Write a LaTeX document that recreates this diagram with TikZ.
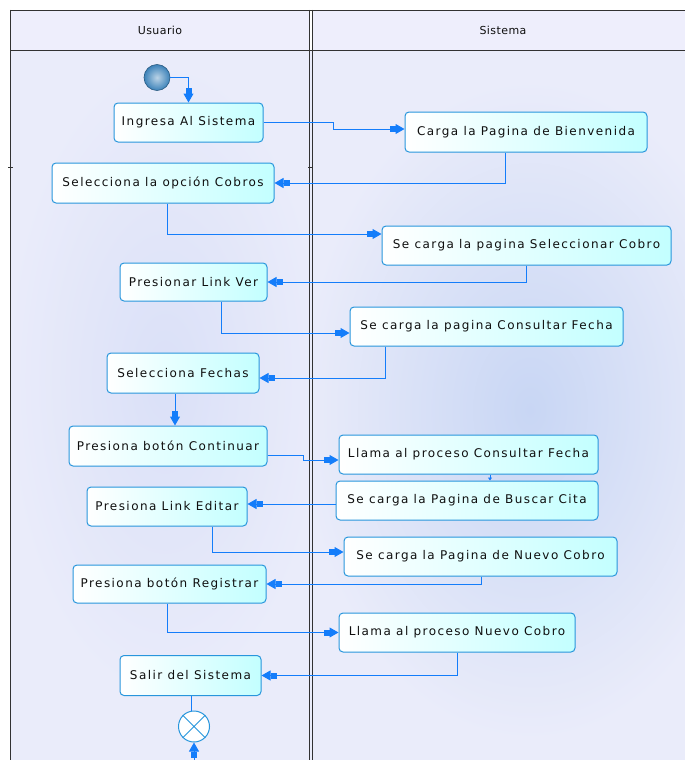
\documentclass[tikz,border=0pt]{standalone}
\usepackage{fontspec}
\setmainfont[LetterSpace=12]{DejaVu Sans}
\newfontfamily\headfont[LetterSpace=4]{DejaVu Sans}
\usetikzlibrary{arrows.meta,calc,shadings}
\definecolor{flowc}{RGB}{20,125,250}
\definecolor{boxborder}{RGB}{40,150,220}
\definecolor{boxfill}{RGB}{195,255,255}
\definecolor{lanebg}{RGB}{234,236,250}
\definecolor{laneglow}{RGB}{200,214,244}
\definecolor{laneglowb}{RGB}{218,224,248}
\definecolor{headbg}{RGB}{238,238,252}
\definecolor{framec}{RGB}{50,50,50}
\definecolor{startc}{RGB}{60,130,185}
\definecolor{txtc}{RGB}{15,15,15}
\tikzset{
  act/.style={draw=boxborder, line width=1pt, rounded corners=4pt,
    left color=white, right color=boxfill, minimum height=39pt,
    inner sep=0pt, text=txtc, font=\fontsize{12}{14}\selectfont},
  flow/.style={draw=flowc, line width=1pt,
    -{Rectangle[length=6pt,width=6pt]Triangle[length=9pt,width=10pt]}},
  flowsmall/.style={draw=flowc, line width=1pt, -{Triangle[length=3pt,width=4pt]}},
  plain/.style={draw=flowc, line width=1pt},
  lanehead/.style={font=\headfont\fontsize{11}{13}\selectfont, text=txtc}
}
\begin{document}
\begin{tikzpicture}[x=1pt,y=-1pt]
\useasboundingbox (0,0) rectangle (685,760);
\fill[white] (0,0) rectangle (685,760);
% lane bodies
\fill[lanebg] (10,51) rectangle (685,760);
\begin{scope}
\clip (312,51) rectangle (685,760);
\shade[inner color=laneglow, outer color=lanebg] (530,410) ellipse (230 and 330);
\end{scope}
\begin{scope}
\clip (10,51) rectangle (309,760);
\shade[inner color=laneglowb, outer color=lanebg] (165,380) ellipse (160 and 320);
\end{scope}
% headers
\fill[headbg] (10,10) rectangle (309,51);
\fill[headbg] (312,10) rectangle (685,51);
\node[lanehead] (hu) at (160,30) {Usuario};
\node[lanehead] (hs) at (503,30) {Sistema};
% frame lines
\draw[framec, line width=1.2pt] (10.5,10.5) -- (685,10.5);
\draw[framec, line width=1pt] (10,51) -- (685,51);
\draw[framec, line width=1.2pt] (10.5,10) -- (10.5,760);
\draw[framec, line width=1pt] (309,10) -- (309,760);
\draw[framec, line width=1pt] (312.5,10) -- (312.5,760);
\draw[framec, line width=1pt] (8,167) -- (13,167);
\draw[framec, line width=1pt] (308,167) -- (313,167);
% start / end
\node[circle, minimum size=26pt, inner sep=0pt, inner color=startc!35!white, outer color=startc, draw=startc!70!black, line width=0.6pt] (start) at (157,77.5) {};
\node[circle, minimum size=31pt, inner sep=0pt, fill=white, draw=boxborder, line width=1pt] (fin) at (194,726.5) {};
\draw[boxborder, line width=0.8pt] (fin.45) -- (fin.225) (fin.135) -- (fin.-45);
% activities
\node[act, minimum width=149pt] (ing) at (188.5,122.5) {Ingresa Al Sistema};
\node[act, minimum width=242pt, minimum height=40pt] (carga) at (526,132) {Carga la Pagina de Bienvenida};
\node[act, minimum width=222pt, minimum height=40pt] (selc) at (163,183) {Selecciona la opción Cobros};
\node[act, minimum width=289pt] (scob) at (526.5,245.5) {Se carga la pagina Seleccionar Cobro};
\node[act, minimum width=147pt, minimum height=38pt] (pres) at (193.5,282) {Presionar Link Ver};
\node[act, minimum width=273pt] (cons) at (486.5,326.5) {Se carga la pagina Consultar Fecha};
\node[act, minimum width=152pt, minimum height=40pt] (sfech) at (183,373) {Selecciona Fechas};
\node[act, minimum width=198pt, minimum height=40pt] (cont) at (168,446) {Presiona botón Continuar};
\node[act, minimum width=259pt] (llc) at (468.5,454.5) {Llama al proceso Consultar Fecha};
\node[act, minimum width=262pt] (busc) at (467,500.5) {Se carga la Pagina de Buscar Cita};
\node[act, minimum width=160pt] (led) at (167,506.5) {Presiona Link Editar};
\node[act, minimum width=273pt] (nuev) at (480.5,556.5) {Se carga la Pagina de Nuevo Cobro};
\node[act, minimum width=193pt, minimum height=38pt] (reg) at (169.5,584) {Presiona botón Registrar};
\node[act, minimum width=236pt] (lln) at (457,632.5) {Llama al proceso Nuevo Cobro};
\node[act, minimum width=141pt, minimum height=40pt] (sal) at (190.5,675.5) {Salir del Sistema};
% connectors
\draw[flow] (start.east) -| (ing.north);
\draw[flow] (ing.east) -- ++(70,0) |- ([yshift=3pt]carga.west);
\draw[flow] ([xshift=-21pt]carga.south) |- (selc.east);
\draw[flow] ([xshift=4pt]selc.south) |- ([yshift=11.5pt]scob.west);
\draw[flow] (scob.south) |- (pres.east);
\draw[flow] ([xshift=27.5pt]pres.south) |- ([yshift=-6.5pt]cons.west);
\draw[flow] ([xshift=-101.5pt]cons.south) |- ([yshift=-5pt]sfech.east);
\draw[flow] ([xshift=-8pt]sfech.south) -- ([xshift=-8pt]sfech.south |- cont.north);
\draw[flow] ([yshift=-9pt]cont.east) -- ++(36,0) |- ([yshift=-5.5pt]llc.west);
\draw[flowsmall] ([xshift=21.5pt]llc.south) -- ([xshift=21.5pt]llc.south |- busc.north);
\draw[flow] ([yshift=-3.5pt]busc.west) -- ([yshift=-3.5pt]busc.west -| led.east);
\draw[flow] ([xshift=45pt]led.south) |- ([yshift=4.5pt]nuev.west);
\draw[flow] ([xshift=0.5pt]nuev.south) |- (reg.east);
\draw[flow] ([xshift=-2.5pt]reg.south) |- (lln.west);
\draw[flow] (lln.south) |- (sal.east);
\draw[plain] ([xshift=1pt]sal.south) -- ([xshift=1pt]sal.south |- fin.north);
\coordinate (fbot) at (194,762);
\draw[flow] (fbot) -- (fin.south);
\end{tikzpicture}
\end{document}
